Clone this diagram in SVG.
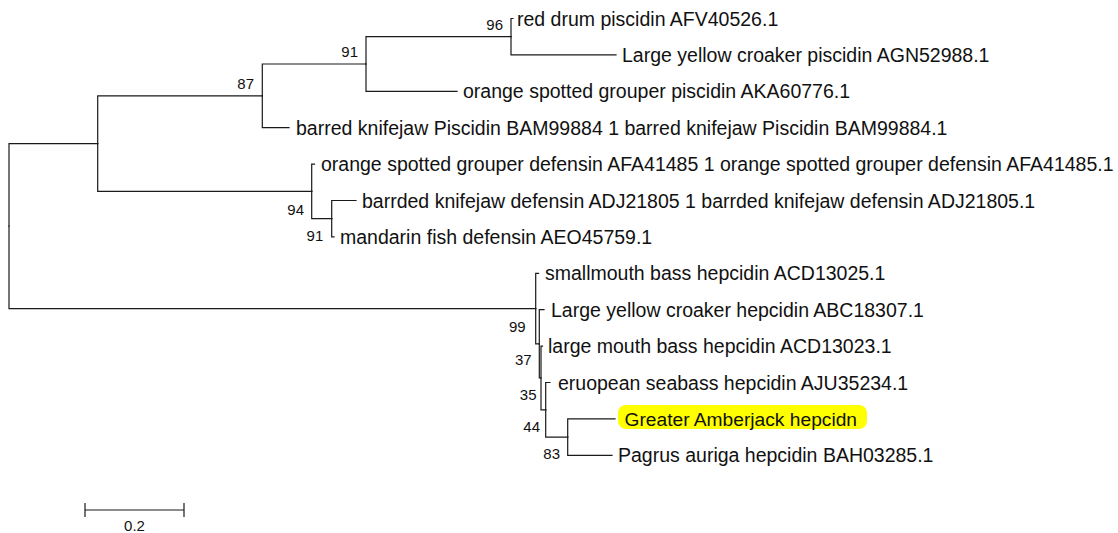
<svg xmlns="http://www.w3.org/2000/svg" width="1118" height="533" viewBox="0 0 1118 533">
<style>
.br{fill:none;stroke:#1a1a1a;stroke-width:1.2;stroke-linecap:square}
.lf{font-family:"Liberation Sans",Arial,sans-serif;font-size:19.5px;fill:#111}
.bs{font-family:"Liberation Sans",Arial,sans-serif;font-size:15px;fill:#111;text-anchor:end}
.sc{font-family:"Liberation Sans",Arial,sans-serif;font-size:15px;fill:#111;text-anchor:middle}
</style>
<rect width="1118" height="533" fill="#ffffff"/>
<g id="connectors">
<path class="br" d="M9,226.1 V143.6 H97.7"/>
<path class="br" d="M9,226.1 V308.6 H535.7"/>
<path class="br" d="M97.7,143.6 V95.85 H262.3"/>
<path class="br" d="M97.7,143.6 V191.4 H311.7"/>
<path class="br" d="M262.3,95.85 V64 H366"/>
<path class="br" d="M262.3,95.85 V127.7 H289"/>
<path class="br" d="M366,64 V36.7 H511"/>
<path class="br" d="M366,64 V91.3 H457"/>
<path class="br" d="M511,36.7 V18.5 H513"/>
<path class="br" d="M511,36.7 V54.9 H616"/>
<path class="br" d="M311.7,191.4 V164.1 H314.5"/>
<path class="br" d="M311.7,191.4 V218.7 H331.7"/>
<path class="br" d="M331.7,218.7 V200.5 H356"/>
<path class="br" d="M331.7,218.7 V236.9 H334"/>
<path class="br" d="M535.7,308.6 V273.3 H538.5"/>
<path class="br" d="M535.7,308.6 V343.8 H539.3"/>
<path class="br" d="M539.3,343.8 V309.7 H544"/>
<path class="br" d="M539.3,343.8 V378 H541"/>
<path class="br" d="M541,378 V346.1 H542.5"/>
<path class="br" d="M541,378 V409.8 H545.7"/>
<path class="br" d="M545.7,409.8 V382.5 H550"/>
<path class="br" d="M545.7,409.8 V437.1 H567.7"/>
<path class="br" d="M567.7,437.1 V418.9 H615"/>
<path class="br" d="M567.7,437.1 V455.3 H612"/>
</g>
<g id="leaf-red-drum"><text class="lf" x="517" y="25.5">red drum piscidin AFV40526.1</text></g>
<g id="leaf-lyc-piscidin"><text class="lf" x="622" y="61.9">Large yellow croaker piscidin AGN52988.1</text></g>
<g id="leaf-osg-piscidin"><text class="lf" x="463" y="98.3">orange spotted grouper piscidin AKA60776.1</text></g>
<g id="leaf-bk-piscidin"><text class="lf" x="296" y="134.7">barred knifejaw Piscidin BAM99884 1 barred knifejaw Piscidin BAM99884.1</text></g>
<g id="leaf-osg-defensin"><text class="lf" x="321" y="171.1">orange spotted grouper defensin AFA41485 1 orange spotted grouper defensin AFA41485.1</text></g>
<g id="leaf-bk-defensin"><text class="lf" x="362" y="207.5">barrded knifejaw defensin ADJ21805 1 barrded knifejaw defensin ADJ21805.1</text></g>
<g id="leaf-mandarin"><text class="lf" x="340" y="243.9">mandarin fish defensin AEO45759.1</text></g>
<g id="leaf-smallmouth"><text class="lf" x="545" y="280.3">smallmouth bass hepcidin ACD13025.1</text></g>
<g id="leaf-lyc-hepcidin"><text class="lf" x="551" y="316.7">Large yellow croaker hepcidin ABC18307.1</text></g>
<g id="leaf-largemouth"><text class="lf" x="548" y="353.1">large mouth bass hepcidin ACD13023.1</text></g>
<g id="leaf-seabass"><text class="lf" x="558" y="389.5">eruopean seabass hepcidin AJU35234.1</text></g>
<g id="leaf-amberjack"><rect x="618" y="405" width="249" height="24" rx="8" fill="#ffff00"/><text class="lf" x="624.5" y="425.9" style="font-size:19.2px">Greater Amberjack hepcidn</text></g>
<g id="leaf-pagrus"><text class="lf" x="618" y="462.3">Pagrus auriga hepcidin BAH03285.1</text></g>
<g id="bootstrap">
<text class="bs" x="503" y="29.5">96</text>
<text class="bs" x="358" y="57">91</text>
<text class="bs" x="254" y="88.9">87</text>
<text class="bs" x="304" y="214.5">94</text>
<text class="bs" x="323.3" y="240.8">91</text>
<text class="bs" x="525.7" y="332">99</text>
<text class="bs" x="531.7" y="365.4">37</text>
<text class="bs" x="536.5" y="400.4">35</text>
<text class="bs" x="540" y="432">44</text>
<text class="bs" x="560" y="458.7">83</text>
</g>
<g id="scale-bar">
<path class="br" d="M85,510 H184 M85,503.5 V516.5 M184,503.5 V516.5"/>
<text class="sc" x="134.5" y="530.5">0.2</text>
</g>
</svg>
